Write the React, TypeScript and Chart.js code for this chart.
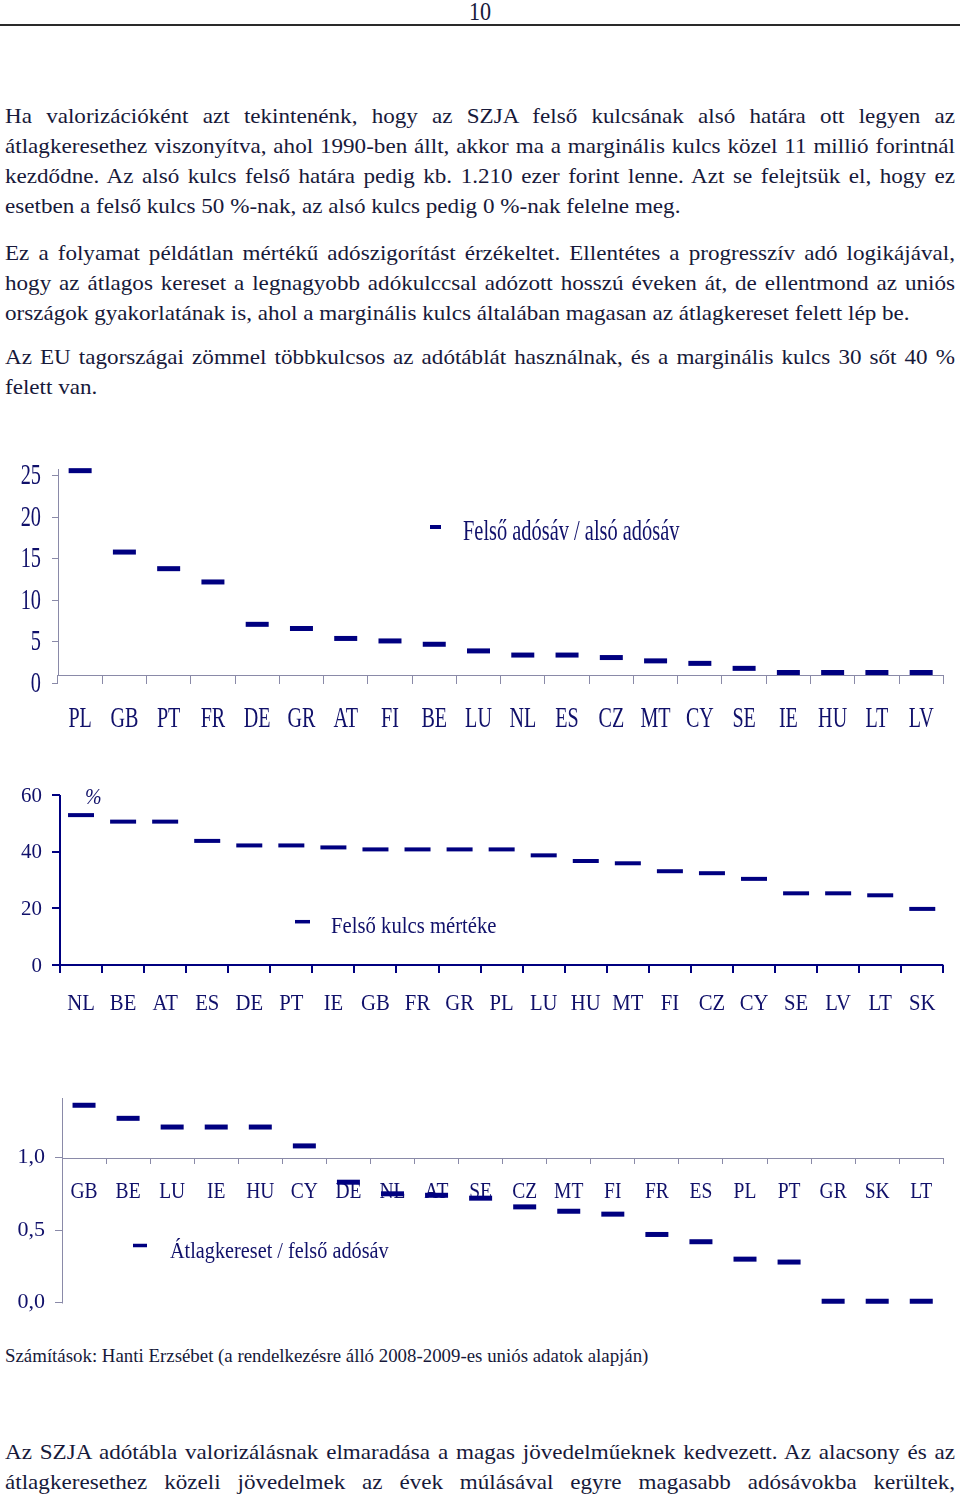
import React, { useEffect, useLayoutEffect, useRef } from 'react';
import { Chart, registerables } from 'chart.js';

Chart.register(...registerables);

// ---------- Chart 1: Felső adósáv / alsó adósáv ----------
const bandRatioLabels = ['PL', 'GB', 'PT', 'FR', 'DE', 'GR', 'AT', 'FI', 'BE', 'LU', 'NL', 'ES', 'CZ', 'MT', 'CY', 'SE', 'IE', 'HU', 'LT', 'LV'];
const bandRatioValues = [25.6, 15.8, 13.8, 12.2, 7.1, 6.6, 5.4, 5.1, 4.7, 3.9, 3.4, 3.4, 3.1, 2.7, 2.4, 1.8, 1.3, 1.3, 1.3, 1.3];
const bandRatioTicks = [0, 5, 10, 15, 20, 25];
const bandRatioTickLabels = ['0', '5', '10', '15', '20', '25'];
const bandRatioLegend = 'Felső adósáv / alsó adósáv';

// ---------- Chart 2: Felső kulcs mértéke (%) ----------
const topRateLabels = ['NL', 'BE', 'AT', 'ES', 'DE', 'PT', 'IE', 'GB', 'FR', 'GR', 'PL', 'LU', 'HU', 'MT', 'FI', 'CZ', 'CY', 'SE', 'LV', 'LT', 'SK'];
const topRateValues = [52.9, 50.6, 50.6, 43.8, 42.2, 42.2, 41.5, 40.8, 40.8, 40.8, 40.8, 38.7, 36.7, 35.9, 33.1, 32.4, 30.4, 25.3, 25.3, 24.6, 19.8];
const topRateTicks = [0, 20, 40, 60];
const topRateTickLabels = ['0', '20', '40', '60'];
const topRateLegend = 'Felső kulcs mértéke';
const topRateUnit = '%';

// ---------- Chart 3: Átlagkereset / felső adósáv ----------
const avgRatioLabels = ['GB', 'BE', 'LU', 'IE', 'HU', 'CY', 'DE', 'NL', 'AT', 'SE', 'CZ', 'MT', 'FI', 'FR', 'ES', 'PL', 'PT', 'GR', 'SK', 'LT'];
const avgRatioValues = [1.36, 1.27, 1.21, 1.21, 1.21, 1.08, 0.83, 0.75, 0.74, 0.72, 0.66, 0.63, 0.61, 0.47, 0.42, 0.3, 0.28, 0.01, 0.01, 0.01];
const avgRatioTicks = [0, 0.5, 1.0];
const avgRatioTickLabels = ['0,0', '0,5', '1,0'];
const avgRatioLegend = 'Átlagkereset / felső adósáv';

// ---------- page text ----------
const para1 = [
  'Ha valorizációként azt tekintenénk, hogy az SZJA felső kulcsának alsó határa ott legyen az',
  'átlagkeresethez viszonyítva, ahol 1990-ben állt, akkor ma a marginális kulcs közel 11 millió forintnál',
  'kezdődne. Az alsó kulcs felső határa pedig kb. 1.210 ezer forint lenne. Azt se felejtsük el, hogy ez',
  'esetben a felső kulcs 50 %-nak, az alsó kulcs pedig 0 %-nak felelne meg.',
];
const para2 = [
  'Ez a folyamat példátlan mértékű adószigorítást érzékeltet. Ellentétes a progresszív adó logikájával,',
  'hogy az átlagos kereset a legnagyobb adókulccsal adózott hosszú éveken át, de ellentmond az uniós',
  'országok gyakorlatának is, ahol a marginális kulcs általában magasan az átlagkereset felett lép be.',
];
const para3 = [
  'Az EU tagországai zömmel többkulcsos az adótáblát használnak, és a marginális kulcs 30 sőt 40 %',
  'felett van.',
];
const para4 = [
  'Az SZJA adótábla valorizálásnak elmaradása a magas jövedelműeknek kedvezett. Az alacsony és az',
  'átlagkeresethez közeli jövedelmek az évek múlásával egyre magasabb adósávokba kerültek,',
];
const sourceText = 'Számítások: Hanti Erzsébet (a rendelkezésre álló 2008-2009-es uniós adatok alapján)';
const pageNumber = '10';

const NAVY = '#000080';
const LABEL = '#10106a';
const BODY = '#17193a';
const SERIF = '"Liberation Serif", "Times New Roman", serif';
const BODY_FS = 21;
const BODY_STRETCH = 1.1;

type Spec = {
  labels: string[]; values: number[]; ticks: number[]; tickLabels: string[]; legend: string;
  yMin: number; yMax: number; cross: number; yAxisTop: number; yAxisBottom: number;
  height: number; padTop: number; padBottom: number; yWidth: number; padRight: number;
  axisColor: string; axisWidth: number; yTickLen: number; xTickLen: number;
  markerRadius: number; markerWidth: number;
  yFont: number; yScaleX: number; yLabelRight: number; yLabelDy: number;
  xFont: number; xScaleX: number; xLabelDy: number;
  legendFont: number; legendScaleX: number; legendX: number; legendY: number;
  dashX1: number; dashX2: number; dashY: number; dashW: number;
  extra?: { text: string; x: number; y: number; font: string; scaleX: number };
};

function condensed(ctx: CanvasRenderingContext2D, text: string, x: number, y: number, font: string, sx: number, align: CanvasTextAlign, baseline: CanvasTextBaseline) {
  ctx.save();
  ctx.font = font;
  ctx.fillStyle = LABEL;
  ctx.textAlign = align;
  ctx.textBaseline = baseline;
  ctx.translate(x, y);
  ctx.scale(sx, 1);
  ctx.fillText(text, 0, 0);
  ctx.restore();
}

function align(v: number, w: number) {
  const r = Math.round(v);
  return w % 2 === 1 ? r + 0.5 : r;
}

function buildConfig(s: Spec): any {
  const decor = {
    id: 'pageDecor',
    beforeDatasetsDraw(chart: any) {
      const { ctx, chartArea } = chart;
      const xs = chart.scales.x;
      const ys = chart.scales.y;
      const crossY = ys.getPixelForValue(s.cross);
      ctx.save();
      ctx.strokeStyle = s.axisColor;
      ctx.lineWidth = s.axisWidth;
      ctx.beginPath();
      const ax = align(chartArea.left, s.axisWidth);
      ctx.moveTo(ax, ys.getPixelForValue(s.yAxisTop));
      ctx.lineTo(ax, align(ys.getPixelForValue(s.yAxisBottom), s.axisWidth));
      const cy = align(crossY, s.axisWidth);
      ctx.moveTo(chartArea.left, cy);
      ctx.lineTo(chartArea.right, cy);
      ctx.stroke();
      ctx.restore();

      s.labels.forEach((lab, i) => {
        condensed(ctx, lab, xs.getPixelForValue(i), crossY + s.xLabelDy, `${s.xFont}px ${SERIF}`, s.xScaleX, 'center', 'alphabetic');
      });
      s.ticks.forEach((t, i) => {
        condensed(ctx, s.tickLabels[i], s.yLabelRight, ys.getPixelForValue(t) + s.yLabelDy, `${s.yFont}px ${SERIF}`, s.yScaleX, 'right', 'middle');
      });

      ctx.save();
      ctx.strokeStyle = NAVY;
      ctx.lineWidth = s.dashW;
      ctx.beginPath();
      ctx.moveTo(s.dashX1, s.dashY);
      ctx.lineTo(s.dashX2, s.dashY);
      ctx.stroke();
      ctx.restore();
      condensed(ctx, s.legend, s.legendX, s.legendY, `${s.legendFont}px ${SERIF}`, s.legendScaleX, 'left', 'alphabetic');
      if (s.extra) {
        condensed(ctx, s.extra.text, s.extra.x, s.extra.y, s.extra.font, s.extra.scaleX, 'left', 'alphabetic');
      }
    },
  };

  return {
    type: 'line',
    data: {
      labels: s.labels,
      datasets: [
        {
          data: s.values,
          showLine: false,
          pointStyle: 'line',
          pointRadius: s.markerRadius,
          pointHoverRadius: s.markerRadius,
          pointBorderWidth: s.markerWidth,
          pointHoverBorderWidth: s.markerWidth,
          pointBorderColor: NAVY,
          pointBackgroundColor: NAVY,
          borderColor: NAVY,
          backgroundColor: NAVY,
          clip: false,
        },
      ],
    },
    options: {
      responsive: false,
      animation: false,
      devicePixelRatio: 1,
      events: [],
      layout: { autoPadding: false, padding: { top: s.padTop, bottom: s.padBottom, left: 0, right: s.padRight } },
      plugins: { legend: { display: false }, tooltip: { enabled: false }, title: { display: false } },
      scales: {
        x: {
          type: 'category',
          position: { y: s.cross },
          offset: true,
          grid: { offset: true, drawOnChartArea: false, drawTicks: true, tickLength: s.xTickLen, color: s.axisColor, lineWidth: s.axisWidth },
          border: { display: false },
          ticks: { display: false },
          afterFit: (sc: any) => { sc.height = 0; },
        },
        y: {
          type: 'linear',
          position: 'left',
          min: s.yMin,
          max: s.yMax,
          grid: { drawOnChartArea: false, drawTicks: true, tickLength: s.yTickLen, color: s.axisColor, lineWidth: s.axisWidth },
          border: { display: false },
          ticks: { display: false },
          afterBuildTicks: (sc: any) => { sc.ticks = s.ticks.map((v) => ({ value: v })); },
          afterFit: (sc: any) => { sc.width = s.yWidth; },
        },
      },
    },
    plugins: [decor],
  };
}

const spec1: Spec = {
  labels: bandRatioLabels, values: bandRatioValues, ticks: bandRatioTicks, tickLabels: bandRatioTickLabels, legend: bandRatioLegend,
  yMin: 0, yMax: 25.8, cross: 1, yAxisTop: 25.8, yAxisBottom: 1,
  height: 300, padTop: 29, padBottom: 56.7, yWidth: 58, padRight: 16.7,
  axisColor: '#8a8aa8', axisWidth: 1, yTickLen: 6, xTickLen: 9,
  markerRadius: 11.5, markerWidth: 5,
  yFont: 29, yScaleX: 0.7, yLabelRight: 41, yLabelDy: 1,
  xFont: 30, xScaleX: 0.67, xLabelDy: 51.7,
  legendFont: 30, legendScaleX: 0.68, legendX: 463, legendY: 99.5,
  dashX1: 430, dashX2: 441, dashY: 87, dashW: 4,
};

const spec2: Spec = {
  labels: topRateLabels, values: topRateValues, ticks: topRateTicks, tickLabels: topRateTickLabels, legend: topRateLegend,
  yMin: 0, yMax: 60, cross: 0, yAxisTop: 60, yAxisBottom: 0,
  height: 270, padTop: 25, padBottom: 75, yWidth: 60, padRight: 16.7,
  axisColor: NAVY, axisWidth: 2, yTickLen: 8, xTickLen: 8,
  markerRadius: 13, markerWidth: 4,
  yFont: 22, yScaleX: 0.95, yLabelRight: 42, yLabelDy: 1,
  xFont: 23, xScaleX: 0.9, xLabelDy: 45,
  legendFont: 23, legendScaleX: 0.9, legendX: 331, legendY: 163.3,
  dashX1: 295, dashX2: 310, dashY: 151.7, dashW: 3.5,
  extra: { text: topRateUnit, x: 85, y: 34, font: `italic 24px ${SERIF}`, scaleX: 0.83 },
};

const spec3: Spec = {
  labels: avgRatioLabels, values: avgRatioValues, ticks: avgRatioTicks, tickLabels: avgRatioTickLabels, legend: avgRatioLegend,
  yMin: 0, yMax: 1.41, cross: 1, yAxisTop: 1.41, yAxisBottom: 0,
  height: 230, padTop: 8, padBottom: 17.3, yWidth: 62, padRight: 16.7,
  axisColor: '#8a8aa8', axisWidth: 1, yTickLen: 7, xTickLen: 6,
  markerRadius: 11.5, markerWidth: 5,
  yFont: 22, yScaleX: 1.0, yLabelRight: 45, yLabelDy: 0,
  xFont: 23, xScaleX: 0.85, xLabelDy: 40.6,
  legendFont: 23, legendScaleX: 0.88, legendX: 170, legendY: 168.3,
  dashX1: 133, dashX2: 147, dashY: 155.5, dashW: 3.5,
};

function PageChart({ spec, top }: { spec: Spec; top: number }) {
  const ref = useRef<HTMLCanvasElement>(null);
  useEffect(() => {
    const chart = new Chart(ref.current as HTMLCanvasElement, buildConfig(spec));
    return () => chart.destroy();
  }, [spec]);
  return (
    <canvas
      ref={ref}
      width={960}
      height={spec.height}
      style={{ position: 'absolute', left: 0, top, width: 960, height: spec.height }}
    />
  );
}

function Para({ lines, top, lastJustified }: { lines: string[]; top: number; lastJustified?: boolean }) {
  return (
    <div
      style={{
        position: 'absolute', left: 5, top, width: 950 / BODY_STRETCH, fontSize: BODY_FS, lineHeight: '30px',
        transform: `scaleX(${BODY_STRETCH})`, transformOrigin: '0 0',
      }}
    >
      {lines.map((l, i) => {
        const just = i < lines.length - 1 || lastJustified;
        return (
          <div
            key={i}
            style={{ textAlign: just ? 'justify' : 'left', textAlignLast: just ? 'justify' : 'auto', height: 30, whiteSpace: 'nowrap' } as any}
          >
            {l}
          </div>
        );
      })}
    </div>
  );
}

function FitText({ text, left, top, width, fontSize }: { text: string; left: number; top: number; width: number; fontSize: number }) {
  const ref = useRef<HTMLSpanElement>(null);
  useLayoutEffect(() => {
    const el = ref.current;
    if (!el) return;
    const w = el.offsetWidth;
    if (w > 0) el.style.transform = `scaleX(${width / w})`;
  }, [text, width]);
  return (
    <span
      ref={ref}
      style={{ position: 'absolute', left, top, fontSize, lineHeight: `${fontSize}px`, whiteSpace: 'nowrap', transformOrigin: '0 0', display: 'inline-block' }}
    >
      {text}
    </span>
  );
}

export default function App() {
  return (
    <div
      style={{
        position: 'absolute', left: 0, top: 0, width: 960, height: 1495, background: '#fff',
        overflow: 'hidden', fontFamily: SERIF, color: BODY,
      }}
    >
      <div style={{ position: 'absolute', left: 0, top: -1, width: 960, textAlign: 'center', fontSize: 26, lineHeight: '26px' }}>
        <span style={{ display: 'inline-block', transform: 'scaleX(0.85)' }}>{pageNumber}</span>
      </div>
      <div style={{ position: 'absolute', left: 0, top: 24, width: 960, height: 2, background: '#2a2a2a' }} />

      <Para lines={para1} top={101} />
      <Para lines={para2} top={238} />
      <Para lines={para3} top={342} />

      <PageChart spec={spec1} top={440} />
      <PageChart spec={spec2} top={770} />
      <PageChart spec={spec3} top={1090} />

      <FitText text={sourceText} left={5} top={1346} width={643} fontSize={19} />

      <Para lines={para4} top={1437} lastJustified />
    </div>
  );
}
